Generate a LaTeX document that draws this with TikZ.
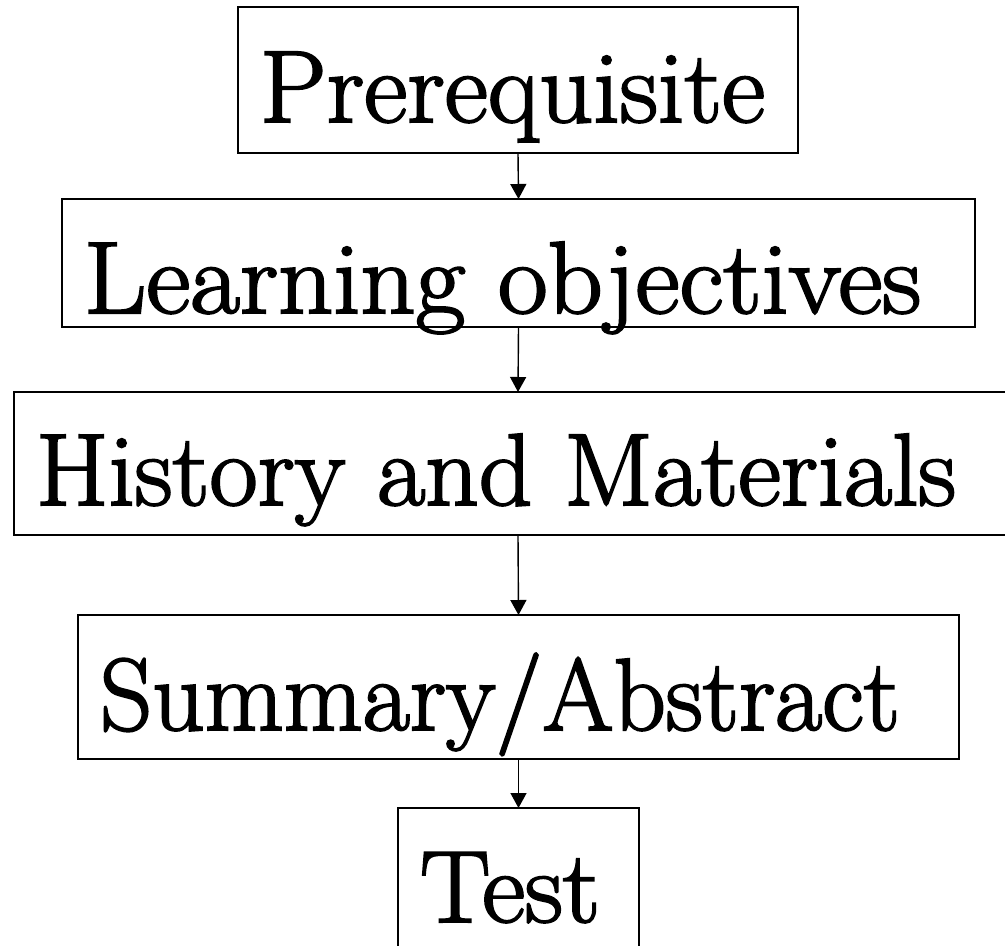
\documentclass[tikz,border=0pt]{standalone}
\usepackage{fontspec}
\usepackage{graphicx}
\newfontfamily\boxfont{Latin Modern Roman}[FakeBold=2]
\usetikzlibrary{arrows.meta}
% left-aligned text, squeezed to the width it has in the picture
\newcommand{\padto}[3]{\makebox[#1][l]{\resizebox{#2}{\height}{#3}}}
\tikzset{
  stepbox/.style={draw, line width=1.6pt, rectangle, anchor=north west,
    inner xsep=22pt, inner ysep=0pt, outer sep=0pt,
    font=\boxfont\fontsize{102.5}{120}\selectfont},
  flow/.style={-{Triangle[width=16pt,length=15pt]}, line width=1.4pt}
}
\begin{document}
\begin{tikzpicture}[x=1pt, y=-1pt]
  \useasboundingbox (0,0) rectangle (1005,946);
  % the five boxes, top to bottom
  \node [stepbox, text height=115pt, text depth=31pt] (pre) at (238,7) {\padto{516pt}{505pt}{Prerequisite}};
  \node [stepbox, text height=114pt, text depth=14pt] (obj) at (62,199) {\padto{869pt}{837pt}{Learning objectives}};
  \node [stepbox, text height=113pt, text depth=30pt] (hist) at (14,392) {\padto{964pt}{920pt}{History and Materials}};
  \node [stepbox, text height=115pt, text depth=29pt] (summ) at (78,615) {\padto{837pt}{800pt}{Summary/Abstract}};
  \node [stepbox, text height=114pt, text depth=30pt] (test) at (398,808) {\padto{197pt}{180pt}{Test}};
  % arrows
  \draw [flow] (pre.south) -- (obj.north);
  \draw [flow] (obj.south) -- (hist.north);
  \draw [flow] (hist.south) -- (summ.north);
  \draw [flow] (summ.south) -- (test.north);
\end{tikzpicture}
\end{document}
